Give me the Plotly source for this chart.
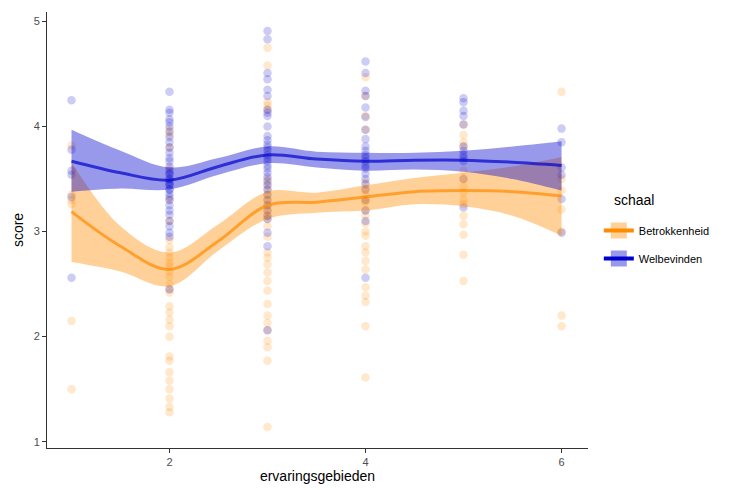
import plotly.graph_objects as go

# ---- data ----
series = ["Betrokkenheid", "Welbevinden"]

betr_x = [1]*6 + [2]*30 + [3]*30 + [4]*23 + [5]*15 + [6]*7
betr_y = [3.82, 3.35, 3.30, 3.26, 2.15, 1.50,
          3.97, 3.92, 3.80, 3.60, 3.30, 3.10, 2.92, 2.85, 2.80, 2.75, 2.70, 2.67, 2.62, 2.57, 2.50,
          2.45, 2.42, 2.29, 2.23, 2.16, 2.10, 2.00, 1.81, 1.77, 1.66, 1.58, 1.50, 1.41, 1.33, 1.28,
          4.75, 4.58, 4.23, 4.20, 4.16, 3.50, 3.45, 3.40, 3.35, 3.30, 3.25, 3.20, 3.15, 3.12, 3.05,
          2.95, 2.80, 2.75, 2.69, 2.61, 2.53, 2.44, 2.31, 2.20, 2.13, 2.06, 1.96, 1.90, 1.77, 1.14,
          4.47, 4.29, 4.10, 3.97, 3.47, 3.40, 3.35, 3.30, 3.28, 3.20, 3.15, 3.08, 3.00, 2.96, 2.86,
          2.80, 2.72, 2.64, 2.47, 2.39, 2.33, 2.10, 1.61,
          4.02, 3.92, 3.85, 3.81, 3.58, 3.50, 3.43, 3.37, 3.30, 3.26, 3.15, 3.07, 2.97, 2.78, 2.53,
          4.33, 3.50, 3.39, 3.21, 3.00, 2.20, 2.10]

welb_x = [1]*6 + [2]*35 + [3]*34 + [4]*23 + [5]*12 + [6]*6
welb_y = [4.25, 3.78, 3.58, 3.54, 3.33, 2.56,
          4.33, 4.16, 4.13, 4.07, 4.04, 4.00, 3.95, 3.90, 3.85, 3.80, 3.75, 3.70, 3.67, 3.62, 3.58,
          3.55, 3.50, 3.47, 3.44, 3.40, 3.36, 3.33, 3.30, 3.25, 3.20, 3.16, 3.10, 3.05, 2.99, 2.95,
          2.45, 3.50, 3.45, 3.55, 3.40,
          4.91, 4.83, 4.51, 4.45, 4.35, 4.29, 4.16, 4.13, 4.10, 4.00, 3.91, 3.87, 3.83, 3.80, 3.77,
          3.73, 3.70, 3.67, 3.63, 3.60, 3.56, 3.52, 3.48, 3.44, 3.40, 3.35, 3.30, 3.25, 3.20, 3.15,
          3.12, 2.99, 2.86, 2.06,
          4.62, 4.51, 4.34, 4.29, 4.18, 4.09, 3.97, 3.88, 3.81, 3.77, 3.73, 3.70, 3.67, 3.63, 3.60,
          3.55, 3.50, 3.45, 3.40, 3.30, 3.20, 3.10, 2.56,
          4.27, 4.23, 4.15, 4.10, 4.02, 3.81, 3.77, 3.73, 3.70, 3.67, 3.50, 3.23,
          3.98, 3.85, 3.61, 3.54, 3.31, 2.99]

smooth_x = [1, 1.5, 2, 2.5, 3, 3.5, 4, 4.5, 5, 5.5, 6]
betr_fit = [3.19, 2.86, 2.64, 2.91, 3.25, 3.28, 3.33, 3.38, 3.39, 3.38, 3.34]
betr_lo  = [2.71, 2.62, 2.48, 2.82, 3.12, 3.18, 3.20, 3.26, 3.24, 3.15, 2.96]
betr_hi  = [3.66, 3.05, 2.80, 3.07, 3.38, 3.37, 3.44, 3.51, 3.56, 3.62, 3.71]
welb_fit = [3.67, 3.56, 3.49, 3.62, 3.73, 3.69, 3.67, 3.68, 3.68, 3.66, 3.63]
welb_lo  = [3.38, 3.41, 3.40, 3.54, 3.65, 3.61, 3.58, 3.59, 3.57, 3.50, 3.39]
welb_hi  = [3.97, 3.77, 3.61, 3.70, 3.81, 3.76, 3.75, 3.75, 3.77, 3.81, 3.86]

x_ticks = [2, 4, 6]
y_ticks = [1, 2, 3, 4, 5]
legend_title = "schaal"

# ---- styles ----
pt_col = {"Betrokkenheid": "#FF8C00", "Welbevinden": "#0000CD"}
band_col = {"Betrokkenheid": "rgba(255,140,0,0.4)", "Welbevinden": "rgba(0,0,205,0.4)"}
line_col = {"Betrokkenheid": "rgba(255,140,0,0.7)", "Welbevinden": "rgba(0,0,205,0.7)"}

fig = go.Figure()

for name, xs, ys in [("Betrokkenheid", betr_x, betr_y), ("Welbevinden", welb_x, welb_y)]:
    fig.add_trace(go.Scatter(x=xs, y=ys, mode="markers", showlegend=False,
                             marker=dict(size=8.5, color=pt_col[name], opacity=0.2, line=dict(width=0)),
                             hoverinfo="skip"))

for name, fit, lo, hi in [("Betrokkenheid", betr_fit, betr_lo, betr_hi),
                          ("Welbevinden", welb_fit, welb_lo, welb_hi)]:
    fig.add_trace(go.Scatter(x=smooth_x, y=lo, mode="lines", line=dict(width=0, shape="spline"),
                             showlegend=False, hoverinfo="skip"))
    fig.add_trace(go.Scatter(x=smooth_x, y=hi, mode="lines", line=dict(width=0, shape="spline"),
                             fill="tonexty", fillcolor=band_col[name], showlegend=False, hoverinfo="skip"))
    fig.add_trace(go.Scatter(x=smooth_x, y=fit, mode="lines", name=name,
                             line=dict(width=3, color=line_col[name], shape="spline"),
                             showlegend=False))

# legend keys: filled box with a line
for name in series:
    fig.add_trace(go.Scatter(x=[None], y=[None], mode="lines+markers", name=name, legendgroup=name,
                             marker=dict(symbol="square", size=18, color=band_col[name], line=dict(width=0)),
                             line=dict(width=4, color=pt_col[name]), showlegend=True))

axis_common = dict(showgrid=False, zeroline=False, showline=True, linecolor="#333333", linewidth=1,
                   ticks="outside", ticklen=4, tickcolor="#333333", automargin=False,
                   tickfont=dict(family="Liberation Sans, Arial", size=11, color="#4D4D4D"))

# the page body adds an 8px offset; margins compensate for it
fig.update_layout(
    width=742, height=490,
    margin=dict(l=39, r=162, t=4, b=50),
    paper_bgcolor="white", plot_bgcolor="white",
    font=dict(family="Liberation Sans, Arial", color="black"),
    xaxis=dict(range=[0.75, 6.27], tickvals=x_ticks, ticktext=[str(v) for v in x_ticks],
               title=dict(text="ervaringsgebieden", font=dict(size=14), standoff=3), **axis_common),
    yaxis=dict(range=[0.94, 5.09], tickvals=y_ticks, ticktext=[str(v) for v in y_ticks],
               title=dict(text="score", font=dict(size=14), standoff=6), **axis_common),
    legend=dict(x=1.02, y=0.532, xanchor="left", yanchor="top", traceorder="grouped",
                font=dict(size=11), itemwidth=30, tracegroupgap=9),
    annotations=[dict(text=legend_title, xref="paper", yref="paper", x=1.044, y=0.569,
                      xanchor="left", yanchor="middle", showarrow=False,
                      font=dict(size=14, color="black"))],
)

fig.write_html("out.html")
